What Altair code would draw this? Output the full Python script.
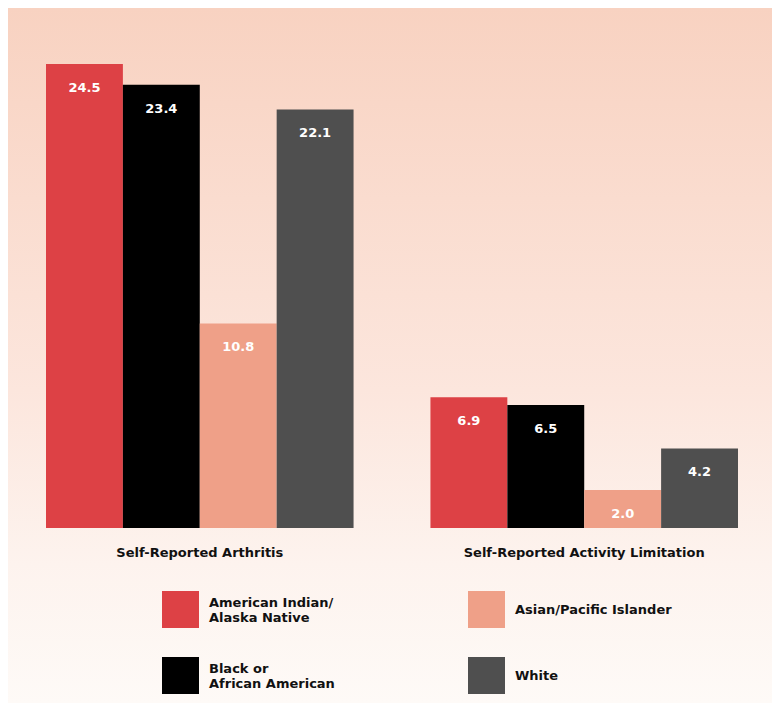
import altair as alt
import pandas as pd

groups = ["Self-Reported Arthritis", "Self-Reported Activity Limitation"]
races = ["American Indian/|Alaska Native", "Black or|African American", "Asian/Pacific Islander", "White"]
legend_order = ["American Indian/|Alaska Native", "Asian/Pacific Islander", "Black or|African American", "White"]
arthritis = [24.5, 23.4, 10.8, 22.1]
activity = [6.9, 6.5, 2.0, 4.2]
colors = {"American Indian/|Alaska Native": "#DD4145",
          "Black or|African American": "#000000",
          "Asian/Pacific Islander": "#EFA088",
          "White": "#4F4F4F"}

rows = []
for g, vals in zip(groups, [arthritis, activity]):
    for r, v in zip(races, vals):
        rows.append({"group": g, "race": r, "value": v, "label": f"{v:.1f}"})
df = pd.DataFrame(rows)
cat_df = pd.DataFrame({"group": groups, "pos": [-25 / 18.94] * len(groups)})

W, H = 764, 695
ppu = 18.94
ymax = 520 / ppu
ymin = -(H - 520) / ppu

FONT = "DejaVu Sans"

gradient = alt.LinearGradient(gradient="linear", x1=0, x2=0, y1=0, y2=1,
                              stops=[alt.GradientStop(offset=0, color="#F8D2C1"),
                                     alt.GradientStop(offset=0.55, color="#FCE6DD"),
                                     alt.GradientStop(offset=0.8, color="#FDF3EE"),
                                     alt.GradientStop(offset=1, color="#FEFAF7")])

bg = alt.Chart(pd.DataFrame({"k": [0]})).mark_rect(fill=gradient, strokeWidth=0).encode(
    x=alt.value(0), x2=alt.value(W), y=alt.value(0), y2=alt.value(H))

xscale = alt.Scale(domain=groups, range=[38, 730], paddingInner=0.2, paddingOuter=0)
x = alt.X("group:N", sort=groups, title=None, scale=xscale, axis=None)
xo = alt.XOffset("race:N", sort=races, scale=alt.Scale(paddingInner=0, paddingOuter=0))
yscale = alt.Scale(domain=[ymin, ymax], zero=False, nice=False)
y = alt.Y("value:Q", scale=yscale, axis=None)

bars = alt.Chart(df).mark_bar(strokeWidth=0).encode(
    x=x, xOffset=xo, y=y,
    color=alt.Color("race:N",
                    scale=alt.Scale(domain=legend_order, range=[colors[r] for r in legend_order]),
                    legend=alt.Legend(title=None, orient="none", legendX=154, legendY=583,
                                      columns=2, direction="horizontal",
                                      symbolType="square", symbolSize=1369, symbolStrokeWidth=0,
                                      labelFont=FONT, labelFontSize=13, labelFontWeight="bold",
                                      labelColor="#111111", labelOffset=10, labelLimit=300,
                                      labelExpr="split(datum.label, '|')",
                                      labelBaseline=alt.ExprRef(expr="indexof(datum.value, '|') >= 0 ? 'bottom' : 'middle'"),
                                      rowPadding=29, columnPadding=133, padding=0,
                                      gridAlign="each")),
)

labels = alt.Chart(df).mark_text(color="white", font=FONT, fontSize=13, fontWeight="bold",
                                  baseline="middle", dy=24).encode(
    x=x, xOffset=xo, y=y, text="label:N")

cats = alt.Chart(cat_df).mark_text(color="#111111", font=FONT, fontSize=13, fontWeight="bold",
                                    baseline="middle", align="center").encode(
    x=alt.X("group:N", sort=groups, title=None, scale=xscale, axis=None,
            bandPosition=0.5),
    y=alt.Y("pos:Q", scale=yscale, axis=None),
    text="group:N")

chart = alt.layer(bg, bars, labels, cats).properties(
    width=W, height=H, padding=0, autosize=alt.AutoSizeParams(type="none")
).configure_view(stroke=None).configure(background="white")

chart.save("out.html", embed_options={"renderer": "svg", "actions": False})
